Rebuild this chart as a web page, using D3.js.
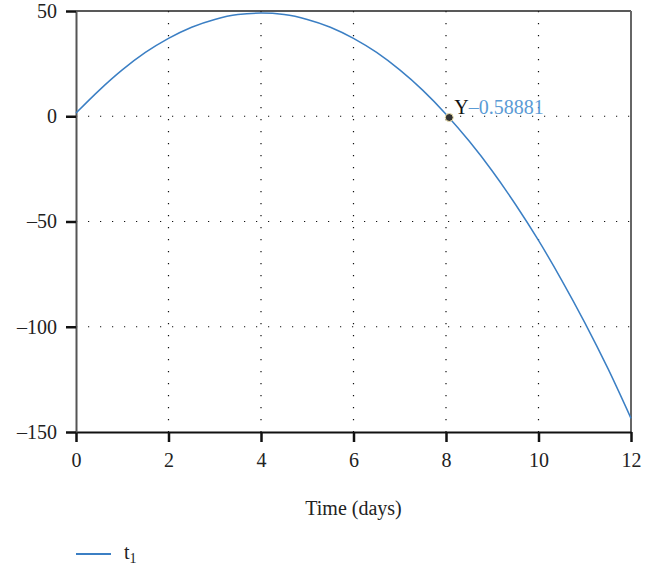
<!DOCTYPE html>
<html>
<head>
<meta charset="utf-8">
<script src="https://cdnjs.cloudflare.com/ajax/libs/d3/7.8.5/d3.min.js"></script>
<style>
  body { margin: 0; background: #fff; }
  text { font-family: "Liberation Serif", "DejaVu Serif", serif; }
</style>
</head>
<body>
<div id="chart"></div>
<script>
// values
const days = [0, 0.5, 1, 1.5, 2, 2.5, 3, 3.5, 4, 4.5, 5, 5.5, 6, 6.5, 7, 7.5, 8, 8.5, 9, 9.5, 10, 10.5, 11, 11.5, 12];
const t1 = [1.5, 12.3, 22, 30.3, 37, 42.3, 46, 48.3, 49, 48.3, 46, 42.3, 37, 30.3, 22, 12.3, 1, -11.8, -26, -41.8, -59, -77.8, -98, -119.8, -143.5];
const xTicks = [0, 2, 4, 6, 8, 10, 12];
const yTicks = [50, 0, -50, -100, -150];
const marker = { x: 8.07, y: -0.58881, label: "–0.58881" };

const svgWidth = 664;
const svgHeight = 569;
const margin = { top: 11, right: 33, bottom: 137, left: 76 };
const width = svgWidth - margin.left - margin.right;
const height = svgHeight - margin.top - margin.bottom;

const svg = d3.select("#chart").append("svg")
  .attr("width", svgWidth)
  .attr("height", svgHeight);

const chartGroup = svg.append("g")
  .attr("transform", `translate(${margin.left}, ${margin.top})`);

const x = d3.scaleLinear().domain([0, 12]).range([0, width]);
const y = d3.scaleLinear().domain([-150, 50]).range([height, 0]);

const fmt = d => String(d).replace("-", "–");

// dotted grid
chartGroup.selectAll(".vgrid")
  .data(xTicks.filter(d => d > 0 && d < 12))
  .enter().append("line")
  .attr("x1", d => x(d)).attr("x2", d => x(d))
  .attr("y1", 0).attr("y2", height)
  .attr("stroke", "#111").attr("stroke-width", 1.2)
  .attr("stroke-dasharray", "1.2,10.8");

chartGroup.selectAll(".hgrid")
  .data(yTicks.filter(d => d > -150 && d < 50))
  .enter().append("line")
  .attr("x1", 0).attr("x2", width)
  .attr("y1", d => y(d)).attr("y2", d => y(d))
  .attr("stroke", "#111").attr("stroke-width", 1.2)
  .attr("stroke-dasharray", "1.2,10.8");

// frame
chartGroup.append("line").attr("x1", 0).attr("x2", width).attr("y1", 0).attr("y2", 0)
  .attr("stroke", "#222").attr("stroke-width", 1.5);
chartGroup.append("line").attr("x1", width).attr("x2", width).attr("y1", 0).attr("y2", height)
  .attr("stroke", "#666").attr("stroke-width", 2);

// axes
const xAxis = chartGroup.append("g")
  .attr("transform", `translate(0, ${height})`)
  .call(d3.axisBottom(x).tickValues(xTicks).tickFormat(fmt).tickSize(10).tickSizeOuter(0).tickPadding(11));

const yAxis = chartGroup.append("g")
  .call(d3.axisLeft(y).tickValues(yTicks).tickFormat(fmt).tickSize(10).tickSizeOuter(0).tickPadding(9));

xAxis.select(".domain").attr("stroke", "#111").attr("stroke-width", 2);
yAxis.select(".domain").attr("stroke", "#555").attr("stroke-width", 2);
[xAxis, yAxis].forEach(a => {
  a.selectAll(".tick line").attr("stroke", "#111").attr("stroke-width", 2.5);
  a.selectAll(".tick text")
    .attr("fill", "#222")
    .attr("font-family", "'Liberation Serif', serif")
    .attr("font-size", 20);
});

// series line
const line = d3.line()
  .x((d, i) => x(days[i]))
  .y(d => y(d))
  .curve(d3.curveMonotoneX);

chartGroup.append("path")
  .datum(t1)
  .attr("d", line)
  .attr("fill", "none")
  .attr("stroke", "#3b7fc4")
  .attr("stroke-width", 1.5);

// data tip
chartGroup.append("circle")
  .attr("cx", x(marker.x))
  .attr("cy", y(marker.y))
  .attr("r", 4)
  .attr("fill", "#333")
  .attr("stroke", "#f3e6b0")
  .attr("stroke-width", 1);

const tip = chartGroup.append("text")
  .attr("x", x(marker.x) + 5)
  .attr("y", y(marker.y) - 3)
  .style("font-size", "20px");
tip.append("tspan").attr("fill", "#111").text("Y");
tip.append("tspan").attr("fill", "#5b9bd5").text(marker.label);

// axis title
chartGroup.append("text")
  .attr("x", width / 2)
  .attr("y", height + 83)
  .attr("text-anchor", "middle")
  .attr("fill", "#222")
  .style("font-size", "20px")
  .text("Time (days)");

// legend
const legend = svg.append("g").attr("transform", "translate(76, 554)");
legend.append("line")
  .attr("x1", 0).attr("x2", 35)
  .attr("y1", 0).attr("y2", 0)
  .attr("stroke", "#3b7fc4").attr("stroke-width", 2);
const lt = legend.append("text")
  .attr("x", 48).attr("y", 5)
  .attr("fill", "#222")
  .style("font-size", "20px");
lt.append("tspan").text("t");
lt.append("tspan").attr("dy", 4).style("font-size", "14px").text("1");
</script>
</body>
</html>
